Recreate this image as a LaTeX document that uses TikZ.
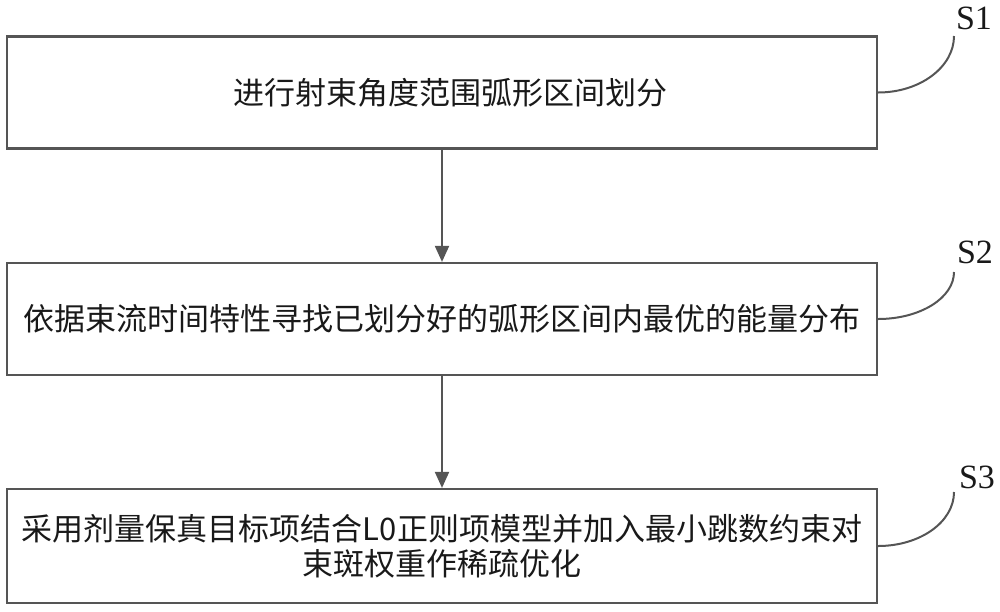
\documentclass[tikz,border=0pt]{standalone}
\usepackage{fontspec}
\setmainfont{Liberation Serif}
\newfontfamily\cjk{Noto Sans CJK SC}
\usetikzlibrary{arrows.meta}
\definecolor{lc}{RGB}{85,85,85}
\definecolor{tc}{RGB}{25,25,25}
\tikzset{
  stepbox/.style={draw=lc, line width=2.2pt, minimum width=870pt, minimum height=112pt,
    inner sep=0pt, align=center, text=tc, font=\cjk\fontsize{31}{35}\selectfont},
  flow/.style={draw=lc, line width=2pt, -{Triangle[length=16pt,width=14pt]}},
  lead/.style={draw=lc, line width=2pt},
  steplabel/.style={inner sep=0pt, text=tc, font=\fontsize{34}{34}\selectfont}
}
\begin{document}
\begin{tikzpicture}[x=1pt,y=-1pt]
\useasboundingbox (0,0) rectangle (1000,611);
\node[stepbox] (b1) at (442,92.5) {\hspace*{16pt}进行射束角度范围弧形区间划分};
\node[stepbox] (b2) at (442,319) {依据束流时间特性寻找已划分好的弧形区间内最优的能量分布};
\node[stepbox, minimum height=114pt] (b3) at (442,546) {采用剂量保真目标项结合L0正则项模型并加入最小跳数约束对\\束斑权重作稀疏优化};
\draw[flow] (b1.south) -- (b2.north);
\draw[flow] (b2.south) -- (b3.north);
\node[steplabel] (s1) at (974,18) {S1};
\node[steplabel] (s2) at (975,252) {S2};
\node[steplabel] (s3) at (977,477) {S3};
\coordinate (c1) at (954,36);
\coordinate (c2) at (954,272);
\coordinate (c3) at (954,492);
\draw[lead] (b1.east) .. controls +(42,0) and +(0,31) .. (c1);
\draw[lead] (b2.east) .. controls +(42,0) and +(0,26) .. (c2);
\draw[lead] (b3.east) .. controls +(42,0) and +(0,30) .. (c3);
\end{tikzpicture}
\end{document}
